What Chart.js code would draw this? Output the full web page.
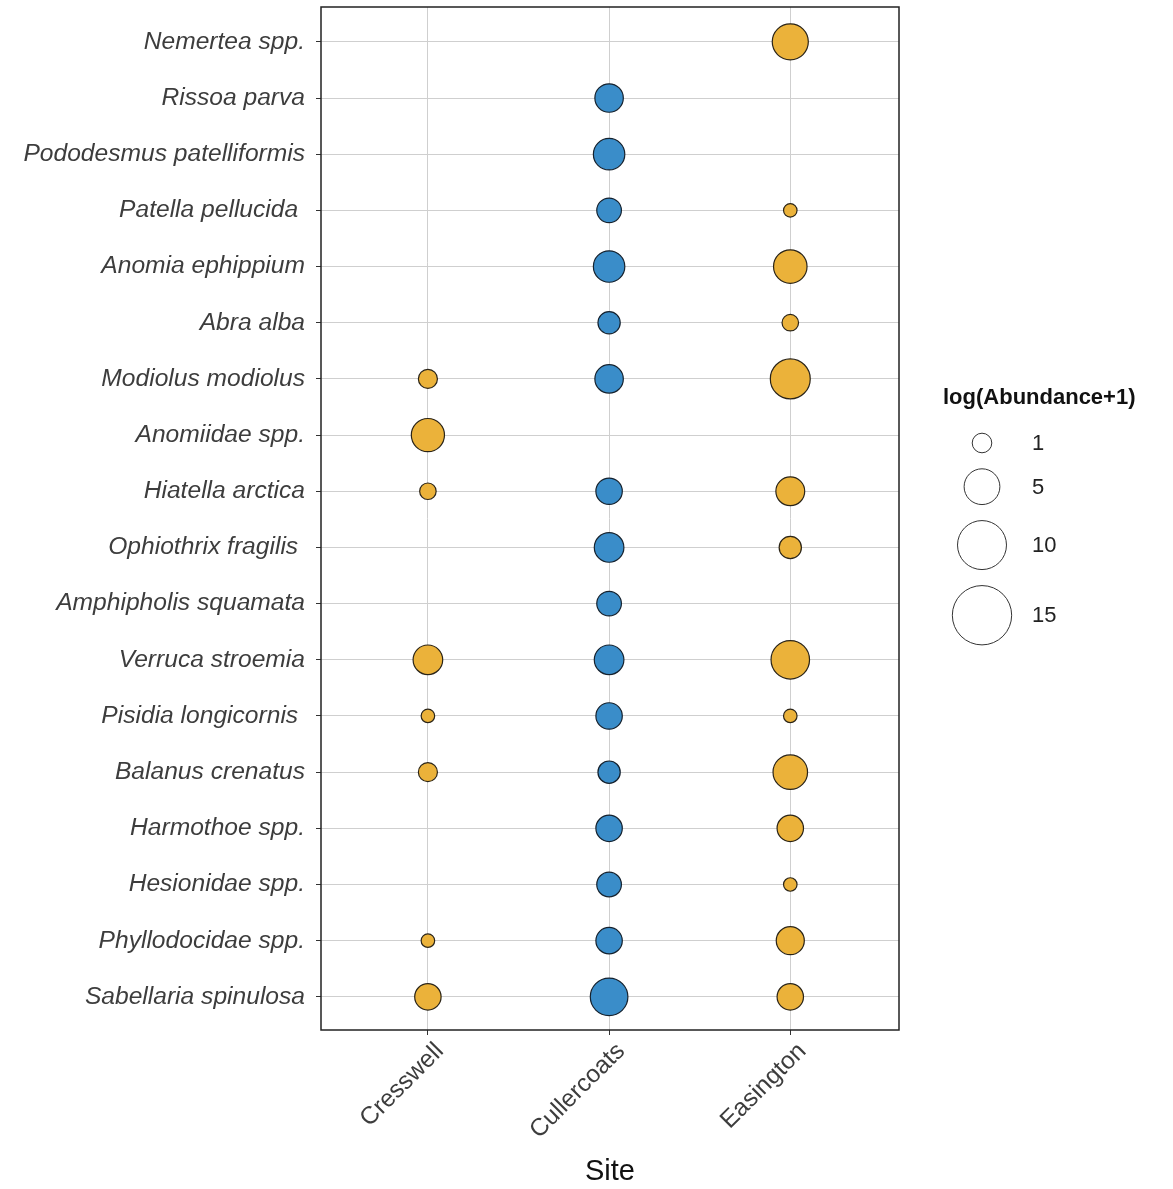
<!DOCTYPE html>
<html>
<head>
<meta charset="utf-8">
<script src="https://cdn.jsdelivr.net/npm/chart.js@4"></script>
<style>
html, body { margin: 0; padding: 0; background: #fff; }
</style>
</head>
<body>
<canvas id="chart-bubbles" width="1173" height="1189"></canvas>
<script>
const sites = ["Cresswell", "Cullercoats", "Easington"];
const species = [
    "Nemertea spp.",
    "Rissoa parva",
    "Pododesmus patelliformis",
    "Patella pellucida ",
    "Anomia ephippium",
    "Abra alba",
    "Modiolus modiolus",
    "Anomiidae spp.",
    "Hiatella arctica",
    "Ophiothrix fragilis ",
    "Amphipholis squamata",
    "Verruca stroemia",
    "Pisidia longicornis ",
    "Balanus crenatus",
    "Harmothoe spp.",
    "Hesionidae spp.",
    "Phyllodocidae spp.",
    "Sabellaria spinulosa"
];

// log(Abundance+1), same order as species (null = not found)
const cresswell   = [null, null, null, null, null, null, 0.9, 4.2, 0.5, null, null, 3.2, 0.1, 0.9, null, null, 0.1, 2.4];
const cullercoats = [null, 2.9, 3.7, 2.0, 3.7, 1.5, 2.9, null, 2.4, 3.2, 2.0, 3.2, 2.4, 1.5, 2.4, 2.0, 2.4, 5.6];
const easington   = [5.1, null, null, 0.1, 4.3, 0.5, 6.4, null, 3.0, 1.5, null, 5.9, 0.1, 4.6, 2.4, 0.1, 2.8, 2.4];

const legendSizes = [1, 5, 10, 15];

const fontFamily = '"Liberation Sans", Arial, sans-serif';
const orange = '#EBB23A';
const blue = '#3A8DC9';

function sizeToRadius(v){
    return Math.sqrt(56 * v + 40);
}

function toPoints(values, siteIndex){
    const points = [];
    values.forEach(function (v, i){
        if(v !== null){
            points.push({x: siteIndex, y: i, r: sizeToRadius(v)});
        }
    });
    return points;
}

const panelBorder = {
    id: 'panelBorder',
    afterDatasetsDraw(chart){
        const a = chart.chartArea;
        const ctx = chart.ctx;
        ctx.save();
        ctx.strokeStyle = '#222';
        ctx.lineWidth = 1.5;
        ctx.strokeRect(a.left, a.top, a.right - a.left, a.bottom - a.top);
        ctx.restore();
    }
};

const sizeLegend = {
    id: 'sizeLegend',
    afterDraw(chart){
        const ctx = chart.ctx;
        ctx.save();
        ctx.fillStyle = '#111';
        ctx.textBaseline = 'middle';
        ctx.textAlign = 'left';
        ctx.font = 'bold 22px ' + fontFamily;
        ctx.fillText('log(Abundance+1)', 943, 398);

        ctx.font = '22px ' + fontFamily;
        let y = 443;
        let prevR = 0;
        legendSizes.forEach(function (s, i){
            const r = sizeToRadius(s);
            if(i > 0){
                y += prevR + 16 + r;
            }
            ctx.beginPath();
            ctx.arc(982, y, r, 0, Math.PI * 2);
            ctx.fillStyle = '#fff';
            ctx.fill();
            ctx.strokeStyle = '#333';
            ctx.lineWidth = 1;
            ctx.stroke();
            ctx.fillStyle = '#222';
            ctx.fillText(String(s), 1032, y + 1);
            prevR = r;
        });
        ctx.restore();
    }
};

const ctx = document.getElementById('chart-bubbles').getContext('2d');

new Chart(ctx, {
    type: 'bubble',
    data: {
        datasets: [
            {label: sites[0], data: toPoints(cresswell, 0), backgroundColor: orange, borderColor: '#2a2418', borderWidth: 1.2},
            {label: sites[1], data: toPoints(cullercoats, 1), backgroundColor: blue, borderColor: '#16222e', borderWidth: 1.2},
            {label: sites[2], data: toPoints(easington, 2), backgroundColor: orange, borderColor: '#2a2418', borderWidth: 1.2}
        ]
    },
    options: {
        responsive: false,
        animation: false,
        events: [],
        clip: false,
        layout: {autoPadding: false, padding: {left: 0, top: 7, right: 274, bottom: 0}},
        plugins: {
            legend: {display: false},
            tooltip: {enabled: false}
        },
        scales: {
            x: {
                type: 'linear',
                min: -0.59,
                max: 2.6,
                afterBuildTicks: function (axis){
                    axis.ticks = sites.map(function (s, i){ return {value: i}; });
                },
                afterFit: function (axis){
                    axis.height = 159;
                    axis.paddingLeft = 0;
                    axis.paddingRight = 0;
                },
                grid: {color: '#cfcfcf', lineWidth: 1, tickColor: '#333', tickLength: 5},
                border: {display: false},
                ticks: {
                    autoSkip: false,
                    minRotation: 45,
                    maxRotation: 45,
                    padding: 2,
                    labelOffset: 12,
                    color: '#3d3d3d',
                    font: {family: fontFamily, size: 24.6},
                    callback: function (v){ return sites[v]; }
                },
                title: {
                    display: true,
                    text: 'Site',
                    color: '#111',
                    font: {family: fontFamily, size: 29, lineHeight: 1.2},
                    padding: {top: 0, bottom: 0}
                }
            },
            y: {
                type: 'linear',
                reverse: true,
                min: -0.62,
                max: 17.59,
                afterBuildTicks: function (axis){
                    axis.ticks = species.map(function (s, i){ return {value: i}; });
                },
                afterFit: function (axis){
                    axis.width = 321;
                    axis.paddingTop = 0;
                    axis.paddingBottom = 0;
                },
                grid: {color: '#cfcfcf', lineWidth: 1, tickColor: '#333', tickLength: 5},
                border: {display: false},
                ticks: {
                    autoSkip: false,
                    padding: 11,
                    color: '#3d3d3d',
                    font: {family: fontFamily, size: 24.6, style: 'italic'},
                    callback: function (v){ return species[v]; }
                }
            }
        }
    },
    plugins: [panelBorder, sizeLegend]
});
</script>
</body>
</html>
